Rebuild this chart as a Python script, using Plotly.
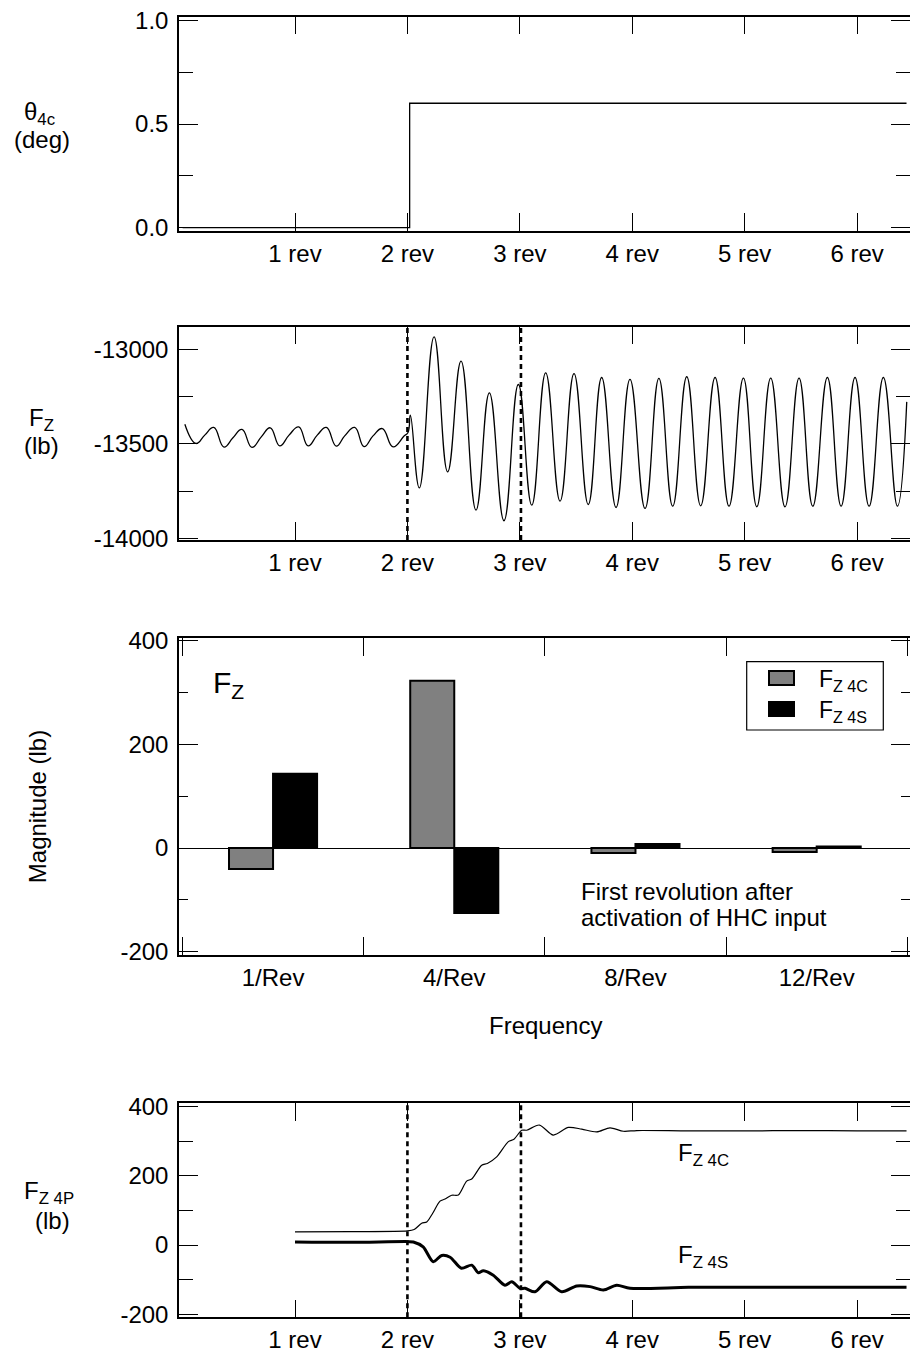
import plotly.graph_objects as go

W, H = 910, 1357
FONT = "Liberation Sans, Arial, Helvetica, sans-serif"

# ---------------- data ----------------
rev_ticks = [1, 2, 3, 4, 5, 6]
rev_labels = ["1 rev", "2 rev", "3 rev", "4 rev", "5 rev", "6 rev"]

theta_x = [0.0, 2.02, 2.02, 6.44]
theta_y = [0.0, 0.0, 0.6, 0.6]

fz_x = [0.02, 0.12, 0.197, 0.277, 0.368, 0.448, 0.528, 0.617, 0.70, 0.78,
        0.864, 0.947, 1.033, 1.116, 1.198, 1.279, 1.367, 1.442, 1.531, 1.614,
        1.694, 1.777, 1.872, 1.97, 2.005, 2.026, 2.106, 2.237, 2.358, 2.477,
        2.61, 2.729, 2.859, 2.987, 3.106, 3.23, 3.358, 3.482, 3.609, 3.728,
        3.856, 3.98, 4.114, 4.237, 4.36, 4.485, 4.609, 4.737, 4.861, 4.989,
        5.108, 5.232, 5.359, 5.484, 5.606, 5.736, 5.858, 5.982, 6.107, 6.234,
        6.359, 6.442]
fz_y = [-13396, -13498, -13454, -13413, -13517, -13468, -13424, -13519, -13463, -13415,
        -13511, -13454, -13410, -13511, -13454, -13413, -13512, -13458, -13413, -13515,
        -13458, -13419, -13516, -13459, -13440, -13348, -13733, -12934, -13648, -13062,
        -13851, -13230, -13907, -13186, -13824, -13124, -13803, -13128, -13821, -13149,
        -13837, -13159, -13842, -13154, -13830, -13145, -13828, -13149, -13830, -13152,
        -13833, -13152, -13833, -13152, -13830, -13149, -13830, -13149, -13830, -13149,
        -13830, -13278]

marker_revs = [2.0, 3.01]

freq_labels = ["1/Rev", "4/Rev", "8/Rev", "12/Rev"]
fz4c_mag = [-40.5, 322.7, -9.6, -7.7]
fz4s_mag = [143.3, -125.4, 7.7, 3.0]
series_names = ["F<sub>Z 4C</sub>", "F<sub>Z 4S</sub>"]
series_colors = ["#808080", "black"]

c_x = [1.0, 1.5, 2.0, 2.06, 2.127, 2.172, 2.225, 2.29, 2.335, 2.394, 2.453, 2.527,
       2.572, 2.661, 2.711, 2.794, 2.898, 2.948, 3.017, 3.061, 3.174, 3.298, 3.432,
       3.551, 3.684, 3.802, 3.921, 4.04, 4.5, 5.0, 5.5, 6.0, 6.44]
c_y = [38, 39, 41, 45, 63, 67, 92, 127, 133, 144, 145, 185,
       191, 231, 236, 255, 299, 306, 332, 332, 347, 318, 340,
       335, 327, 339, 329, 331, 330, 330, 331, 330, 330]

s_x = [1.0, 1.5, 2.0, 2.053, 2.14, 2.23, 2.305, 2.38, 2.48, 2.572, 2.631, 2.675,
       2.764, 2.868, 2.928, 3.002, 3.047, 3.135, 3.239, 3.373, 3.506, 3.625, 3.743,
       3.862, 3.98, 4.5, 5.0, 5.5, 6.0, 6.44]
s_y = [9, 8, 10, 9, -5, -48, -30, -35, -67, -58, -80, -74,
       -87, -116, -106, -125, -125, -135, -106, -135, -118, -120, -130,
       -116, -125, -122, -122, -122, -122, -122]


# ---------------- helpers ----------------
def fx(p):
    return p / W


def fy(p):
    return 1 - p / H


XL = fx(179)
panels_y = {  # top, bottom pixel
    1: (16.7, 231.0),
    2: (326.7, 540.0),
    3: (638.3, 955.0),
    4: (1103.3, 1317.3),
}


def ydom(k):
    t, b = panels_y[k]
    return [fy(b), fy(t)]


tickfont = dict(family=FONT, size=24, color="black")
LINEW = 1.5

common_axis = dict(showline=True, linecolor="black", linewidth=LINEW, mirror="ticks",
                   ticks="inside", tickcolor="black", tickwidth=1.3, showgrid=False,
                   zeroline=False, tickfont=tickfont, automargin=False)


def time_xaxis(anchor):
    return dict(common_axis, domain=[XL, 1.0], anchor=anchor, range=[-0.032, 6.471],
                tickmode="array", tickvals=rev_ticks, ticktext=rev_labels, ticklen=18,
                ticklabelstandoff=0)


fig = go.Figure()

# Panel 1
fig.add_trace(go.Scatter(x=theta_x, y=theta_y, mode="lines", xaxis="x", yaxis="y",
                         line=dict(color="black", width=1.3), showlegend=False))
# Panel 2
fig.add_trace(go.Scatter(x=fz_x, y=fz_y, mode="lines", xaxis="x2", yaxis="y2",
                         line=dict(color="black", width=1.3, shape="spline", smoothing=1.3),
                         showlegend=False))
# Panel 3 bars
fig.add_trace(go.Bar(x=freq_labels, y=fz4c_mag, xaxis="x3", yaxis="y3", name=series_names[0],
                     showlegend=False,
                     marker=dict(color=series_colors[0], line=dict(color="black", width=2))))
fig.add_trace(go.Bar(x=freq_labels, y=fz4s_mag, xaxis="x3", yaxis="y3", name=series_names[1],
                     showlegend=False,
                     marker=dict(color=series_colors[1], line=dict(color="black", width=2))))
# Panel 4
fig.add_trace(go.Scatter(x=c_x, y=c_y, mode="lines", xaxis="x4", yaxis="y4",
                         line=dict(color="black", width=1.2, shape="spline", smoothing=0.8),
                         showlegend=False))
fig.add_trace(go.Scatter(x=s_x, y=s_y, mode="lines", xaxis="x4", yaxis="y4",
                         line=dict(color="black", width=3, shape="spline", smoothing=0.8),
                         showlegend=False))

shapes = []
for xa, ya in (("x2", "y2"), ("x4", "y4")):
    for r in marker_revs:
        shapes.append(dict(type="line", xref=xa, yref=ya + " domain", x0=r, x1=r, y0=0, y1=1,
                           line=dict(color="black", width=2.6, dash="5px,4px")))

annotations = []


def ann(text, xp, yp, size=24, xanchor="center", yanchor="middle", **kw):
    annotations.append(dict(text=text, x=fx(xp), y=fy(yp), xref="paper", yref="paper",
                            showarrow=False, xanchor=xanchor, yanchor=yanchor,
                            font=dict(family=FONT, size=size, color="black"), **kw))


# legend box (drawn in paper space)
shapes.append(dict(type="rect", xref="paper", yref="paper", x0=fx(746.7), x1=fx(883.3),
                   y0=fy(730), y1=fy(661.7), line=dict(color="black", width=1.2),
                   fillcolor="white", layer="above"))
for i, (nm, col) in enumerate(zip(series_names, series_colors)):
    yc = 678 + 31 * i
    shapes.append(dict(type="rect", xref="paper", yref="paper", x0=fx(769), x1=fx(794),
                       y0=fy(yc + 7), y1=fy(yc - 7), line=dict(color="black", width=2),
                       fillcolor=col, layer="above"))
    ann(nm, 817, yc + 2, size=23, xanchor="left")

# axis labels
ann("θ<sub>4c</sub>", 39, 114)
ann("(deg)", 41.5, 140)
ann("F<sub>Z</sub>", 41.5, 420)
ann("(lb)", 41.5, 446)
ann("Magnitude (lb)", 37.5, 806.7, textangle=-90)
ann("Frequency", 545, 1025)
ann("F<sub>Z 4P</sub>", 48.5, 1192)
ann("(lb)", 52.5, 1220)
# in-plot text
ann("F<sub>Z</sub>", 211, 684, size=30, xanchor="left")
ann("First revolution after", 579, 891, size=24, xanchor="left")
ann("activation of HHC input", 579, 917, size=24, xanchor="left")
ann("F<sub>Z 4C</sub>", 676, 1154, size=24, xanchor="left")
ann("F<sub>Z 4S</sub>", 676, 1256, size=24, xanchor="left")

fig.update_layout(
    width=W, height=H, autosize=False,
    margin=dict(l=0, r=0, t=0, b=0, pad=0, autoexpand=False),
    paper_bgcolor="white", plot_bgcolor="white",
    font=dict(family=FONT, size=24, color="black"),
    barmode="group", bargap=0.514, bargroupgap=0.0,
    shapes=shapes, annotations=annotations, showlegend=False,
    xaxis=time_xaxis("y"),
    yaxis=dict(common_axis, domain=ydom(1), anchor="x", range=[-0.016, 1.0174],
               tickmode="array", tickvals=[0, 0.5, 1.0], ticktext=["0.0", "0.5", "1.0"],
               ticklen=19, ticklabelstandoff=4,
               minor=dict(ticks="inside", ticklen=14, tickvals=[0.25, 0.75], tickcolor="black",
                          tickwidth=1.3, showgrid=False)),
    xaxis2=time_xaxis("y2"),
    yaxis2=dict(common_axis, domain=ydom(2), anchor="x2", range=[-14009, -12880],
                tickmode="array", tickvals=[-14000, -13500, -13000],
                ticktext=["-14000", "-13500", "-13000"],
                ticklen=19, ticklabelstandoff=4,
                minor=dict(ticks="inside", ticklen=14, tickvals=[-13750, -13250], tickcolor="black",
                           tickwidth=1.3, showgrid=False)),
    xaxis3=dict(common_axis, domain=[XL, 1.0], anchor="y3", type="category",
                range=[-0.519, 3.515], tickson="boundaries", ticklen=18,
                ticklabelstandoff=0),
    yaxis3=dict(common_axis, domain=ydom(3), anchor="x3", range=[-206.4, 404.6],
                tickmode="array", tickvals=[-200, 0, 200, 400],
                ticktext=["-200", "0", "200", "400"],
                ticklen=19, ticklabelstandoff=4,
                zeroline=True, zerolinecolor="black", zerolinewidth=1.2,
                minor=dict(ticks="inside", ticklen=9, tickvals=[-100, 100, 300], tickcolor="black",
                           tickwidth=1.3, showgrid=False)),
    xaxis4=time_xaxis("y4"),
    yaxis4=dict(common_axis, domain=ydom(4), anchor="x4", range=[-208.7, 409.8],
                tickmode="array", tickvals=[-200, 0, 200, 400],
                ticktext=["-200", "0", "200", "400"],
                ticklen=19, ticklabelstandoff=4,
                minor=dict(ticks="inside", ticklen=14, tickvals=[-100, 100, 300], tickcolor="black",
                           tickwidth=1.3, showgrid=False)),
)

post = ("document.documentElement.style.margin='0';document.body.style.margin='0';"
        "document.documentElement.style.overflow='hidden';document.body.style.overflow='hidden';")
fig.write_html("out.html", post_script=post, config={"displayModeBar": False})
